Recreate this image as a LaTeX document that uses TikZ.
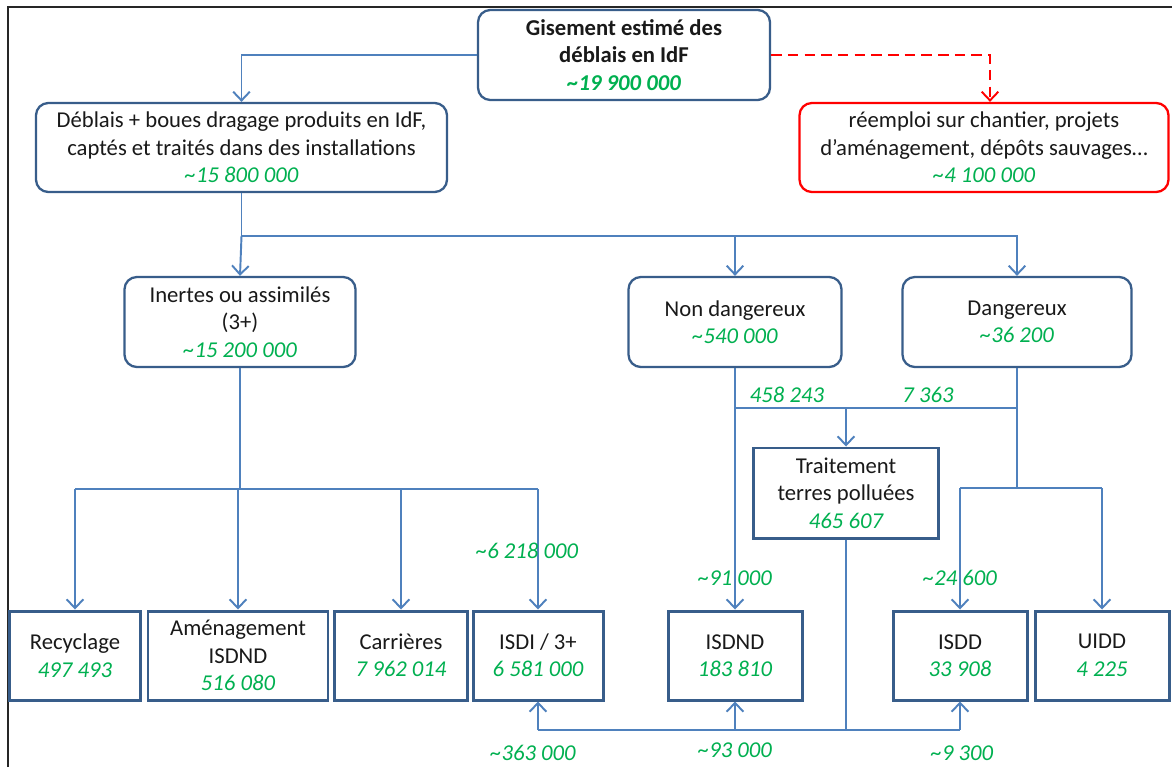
\documentclass[tikz,border=0pt]{standalone}
\usepackage{fontspec}
\setmainfont{Carlito}
\usetikzlibrary{arrows.meta,calc}
\definecolor{boxblue}{RGB}{56,93,138}
\definecolor{lineblue}{RGB}{79,129,189}
\definecolor{vg}{RGB}{0,176,80}
\newcommand\gn[1]{{\color{vg}\itshape #1}}
\begin{document}
\begin{tikzpicture}[x=0.02cm,y=-0.02cm,
  every node/.style={font=\fontsize{12.9}{15.6}\selectfont, text=black!90},
  wh/.style 2 args={minimum width=#1*0.02cm, minimum height=#2*0.02cm},
  rbox/.style={draw=boxblue, line width=1.3pt, rounded corners=7pt, align=center, inner sep=0pt},
  sbox/.style={draw=boxblue, line width=1.7pt, align=center, inner sep=0pt},
  redbox/.style={draw=red, line width=1.3pt, rounded corners=7pt, align=center, inner sep=0pt},
  conn/.style={draw=lineblue, line width=1.1pt},
  arr/.style={conn, -{Straight Barb[length=5pt,width=9.5pt]}},
  redarr/.style={draw=red, line width=1.1pt, dash pattern=on 6pt off 3.5pt, -{Straight Barb[length=5pt,width=9.5pt]}},
  lbl/.style={text=vg, font=\fontsize{12.9}{15.6}\selectfont\itshape, inner sep=0pt}
]
\useasboundingbox (0,0) rectangle (1172,767);
\fill[white] (0,0) rectangle (1172,767);
\draw[line width=1.4pt, black!85] (8,767) -- (8,7) -- (1172,7);

% top level
\node[rbox, wh={292}{90}] (gis) at (624,55) {\textbf{Gisement estimé des}\\\textbf{déblais en IdF}\\\textbf{\gn{\textasciitilde19 900 000}}};
\node[rbox, wh={411}{89}] (deb) at (241.5,147.5) {Déblais + boues dragage produits en IdF,\\captés et traités dans des installations\\\gn{\textasciitilde15 800 000}};
\node[redbox, wh={369}{89}] (ree) at (984,147.5) {réemploi sur chantier, projets\\d’aménagement, dépôts sauvages…\\\gn{\textasciitilde4 100 000}};

% second level
\node[rbox, wh={231}{90}] (inr) at (240,322) {Inertes ou assimilés\\(3+)\\\gn{\textasciitilde15 200 000}};
\node[rbox, wh={213}{90}] (nd) at (735,322) {Non dangereux\\\gn{\textasciitilde540 000}};
\node[rbox, wh={229}{90}] (dg) at (1017,322) {Dangereux\\\gn{\textasciitilde36 200}};

% treatment
\node[sbox, wh={185}{90}] (trt) at (846,493) {Traitement\\terres polluées\\\gn{465 607}};

% bottom row
\node[sbox, wh={131}{89}] (rec) at (75,655.5) {Recyclage\\\gn{497 493}};
\node[sbox, wh={180}{89}] (ame) at (238,655.5) {Aménagement\\ISDND\\\gn{516 080}};
\node[sbox, wh={133}{89}] (car) at (401,655.5) {Carrières\\\gn{7 962 014}};
\node[sbox, wh={130}{89}] (isdi) at (538,655.5) {ISDI / 3+\\\gn{6 581 000}};
\node[sbox, wh={134}{89}] (isdnd) at (735,655.5) {ISDND\\\gn{183 810}};
\node[sbox, wh={134}{89}] (isdd) at (960,655.5) {ISDD\\\gn{33 908}};
\node[sbox, wh={134}{89}] (uidd) at (1102,655.5) {UIDD\\\gn{4 225}};

% junctions
\coordinate (j1) at (241.5,236);
\coordinate (j2) at (240,489);
\coordinate (j3) at (735,408);
\coordinate (j4) at (1017,488);
\coordinate (j5) at (846,730);

% connectors
\draw[arr] (gis.west) -| (deb.north);
\draw[redarr] (gis.east) -| ($(ree.north)+(6,0)$);

\draw[conn] (deb.south) -- (j1);
\draw[arr] (j1) -- (inr.north);
\draw[arr] (j1) -| (nd.north);
\draw[arr] (j1) -| (dg.north);

\draw[conn] (inr.south) -- (j2);
\draw[conn] (rec.north |- j2) -- (isdi.north |- j2);
\draw[arr] (rec.north |- j2) -- (rec.north);
\draw[arr] (ame.north |- j2) -- (ame.north);
\draw[arr] (car.north |- j2) -- (car.north);
\draw[arr] (isdi.north |- j2) -- (isdi.north);

\draw[arr] (nd.south) -- (isdnd.north);
\draw[conn] (j3) -- (dg.south |- j3);
\draw[arr] (trt.north |- j3) -- (trt.north);

\draw[conn] (dg.south) -- (j4);
\draw[conn] (isdd.north |- j4) -- (uidd.north |- j4);
\draw[arr] (isdd.north |- j4) -- (isdd.north);
\draw[arr] (uidd.north |- j4) -- (uidd.north);

\draw[conn] (trt.south) -- (j5);
\draw[conn] (isdi.south |- j5) -- (isdd.south |- j5);
\draw[arr] (isdi.south |- j5) -- (isdi.south);
\draw[arr] (isdnd.south |- j5) -- (isdnd.south);
\draw[arr] (isdd.south |- j5) -- (isdd.south);

% labels
\node[lbl] (l1) at (527,551) {\textasciitilde6 218 000};
\node[lbl] (l2) at (787,395) {458 243};
\node[lbl] (l3) at (928,395) {7 363};
\node[lbl] (l4) at (735,578) {\textasciitilde91 000};
\node[lbl] (l5) at (960,578) {\textasciitilde24 600};
\node[lbl] (l6) at (533,753) {\textasciitilde363 000};
\node[lbl] (l7) at (735,750) {\textasciitilde93 000};
\node[lbl] (l8) at (962,753) {\textasciitilde9 300};
\end{tikzpicture}
\end{document}
